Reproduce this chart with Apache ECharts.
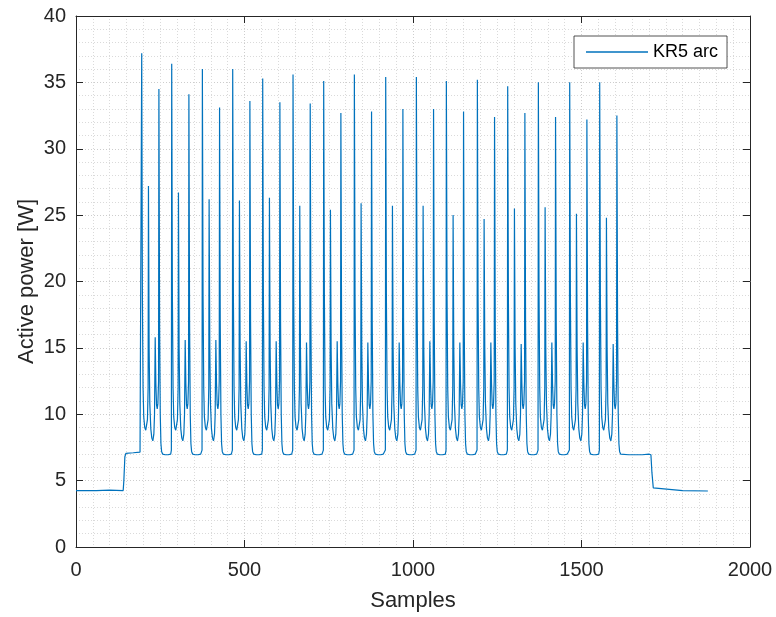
<!DOCTYPE html>
<html>
<head>
<meta charset="utf-8">
<script src="https://cdn.jsdelivr.net/npm/echarts@6/dist/echarts.min.js"></script>
<style>
html,body{margin:0;padding:0;background:#fff;}
#chart{width:776px;height:617px;}
</style>
</head>
<body>
<div id="chart"></div>
<script>
// ---- Data ----
const seriesName = 'KR5 arc';
const xTicks = [0, 500, 1000, 1500, 2000];
const yTicks = [0, 5, 10, 15, 20, 25, 30, 35, 40];

// Sample index of the first (largest) arc spike of each cycle
const peakAx = [195, 284, 375, 465, 554, 644, 735, 826, 919, 1010, 1099, 1191, 1281, 1372, 1465, 1554];
// Heights of the four spikes in each cycle [W]
const peakA = [37.2, 36.4, 36.0, 36.0, 35.3, 35.6, 35.1, 35.6, 35.4, 35.4, 35.1, 35.2, 34.7, 35.0, 35.0, 35.0];
const peakM = [27.2, 26.7, 26.2, 26.1, 26.3, 25.7, 25.4, 25.9, 25.7, 25.7, 25.0, 24.7, 25.5, 25.6, 25.1, 24.8];
const peakS = [15.8, 15.6, 15.6, 15.5, 15.5, 15.4, 15.5, 15.4, 15.4, 15.5, 15.4, 15.4, 15.3, 15.4, 15.4, 15.3];
const peakB = [34.5, 34.1, 33.1, 33.6, 33.5, 33.4, 32.7, 32.8, 33.0, 33.0, 32.8, 32.4, 32.7, 32.4, 32.2, 32.5];

// Shape of one cycle: sample offset from spike A and level [W]
const profileOffset = [-2, -1, 0, 1, 2, 4, 6, 9, 12, 15, 17, 19, 20, 21, 22, 24, 27, 30, 33, 36, 38, 40, 41, 42, 44, 46, 48, 50, 51, 52, 53, 55, 57, 59, 62, 70, 78, 86];
const profileLevel  = [7.0, 7.3, 'A', 'A', 19, 12, 9.8, 9.0, 8.8, 8.9, 9.6, 12, 'M', 'M', 15, 10.8, 8.9, 8.2, 8.0, 8.5, 10, 'S', 'S', 12.3, 10.7, 10.4, 10.8, 12.5, 'B', 'B', 17, 10, 7.8, 7.2, 7.0, 6.95, 6.95, 7.0];

// Idle segments before and after the arc cycles [sample, W]
const leadIn = [[0, 4.25], [60, 4.25], [100, 4.28], [140, 4.25], [142, 5.0], [145, 6.8], [148, 7.05], [170, 7.1], [190, 7.15]];
const leadOut = [[1640, 6.95], [1680, 6.95], [1700, 7.0], [1706, 6.95], [1709, 5.6], [1713, 4.45], [1718, 4.3], [1800, 4.25], [1875, 4.22]];

// ---- Build the series from the read values ----
const trace = [];
leadIn.forEach(p => trace.push(p));
peakAx.forEach((x0, i) => {
  const last = i === peakAx.length - 1;
  profileOffset.forEach((off, k) => {
    if (last && off > 62) return;
    if (i === 0 && off < 0) return;
    let lv = profileLevel[k];
    if (lv === 'A') lv = peakA[i];
    else if (lv === 'M') lv = peakM[i];
    else if (lv === 'S') lv = peakS[i];
    else if (lv === 'B') lv = peakB[i];
    trace.push([x0 + off, lv]);
  });
});
leadOut.forEach(p => trace.push(p));

const axisColor = '#262626';
const fontFam = '"Liberation Sans", Arial, Helvetica, sans-serif';

const chart = echarts.init(document.getElementById('chart'), null, {renderer: 'canvas'});
chart.setOption({
  animation: false,
  backgroundColor: '#ffffff',
  grid: {left: 76, right: 26, top: 16, bottom: 69, containLabel: false},
  legend: {
    data: [seriesName],
    left: 574, top: 36,
    icon: 'rect', itemWidth: 62, itemHeight: 1.5,
    padding: [6, 9, 6, 12],
    backgroundColor: '#ffffff',
    borderColor: axisColor, borderWidth: 0.8,
    textStyle: {fontFamily: fontFam, fontSize: 18, color: '#000', lineHeight: 20}
  },
  xAxis: [{
    type: 'value', min: xTicks[0], max: xTicks[xTicks.length - 1], interval: 500,
    name: 'Samples', nameLocation: 'middle', nameGap: 43, nameMoveOverlap: false,
    nameTextStyle: {fontFamily: fontFam, fontSize: 22, color: axisColor},
    axisLine: {show: true, onZero: false, lineStyle: {color: axisColor, width: 1}},
    axisTick: {show: true, inside: true, length: 7, lineStyle: {color: axisColor}},
    axisLabel: {margin: 13, fontFamily: fontFam, fontSize: 20, color: axisColor, formatter: v => String(v)},
    splitLine: {show: true, lineStyle: {color: '#cdcdcd', width: 1, type: [1, 2]}},
    minorTick: {show: false, splitNumber: 10},
    minorSplitLine: {show: true, lineStyle: {color: '#dadada', width: 1, type: [1, 2]}}
  }, {
    type: 'value', position: 'top', min: xTicks[0], max: xTicks[xTicks.length - 1], interval: 500,
    axisLine: {show: true, onZero: false, lineStyle: {color: axisColor, width: 1}},
    axisTick: {show: true, inside: true, length: 7, lineStyle: {color: axisColor}},
    axisLabel: {show: false}, splitLine: {show: false}
  }],
  yAxis: [{
    type: 'value', min: yTicks[0], max: yTicks[yTicks.length - 1], interval: 5,
    name: 'Active power [W]', nameLocation: 'middle', nameGap: 38, nameMoveOverlap: false,
    nameTextStyle: {fontFamily: fontFam, fontSize: 22, color: axisColor},
    axisLine: {show: true, onZero: false, lineStyle: {color: axisColor, width: 1}},
    axisTick: {show: true, inside: true, length: 7, lineStyle: {color: axisColor}},
    axisLabel: {margin: 10, fontFamily: fontFam, fontSize: 20, color: axisColor, formatter: v => String(v)},
    splitLine: {show: true, lineStyle: {color: '#cdcdcd', width: 1, type: [1, 2]}},
    minorTick: {show: false, splitNumber: 5},
    minorSplitLine: {show: true, lineStyle: {color: '#dadada', width: 1, type: [1, 2]}}
  }, {
    type: 'value', position: 'right', min: yTicks[0], max: yTicks[yTicks.length - 1], interval: 5,
    axisLine: {show: true, onZero: false, lineStyle: {color: axisColor, width: 1}},
    axisTick: {show: true, inside: true, length: 7, lineStyle: {color: axisColor}},
    axisLabel: {show: false}, splitLine: {show: false}
  }],
  series: [{
    name: seriesName,
    type: 'line',
    data: trace,
    xAxisIndex: 0, yAxisIndex: 0,
    symbol: 'none',
    smooth: false,
    color: '#0072BD',
    lineStyle: {color: '#0072BD', width: 1.2},
    itemStyle: {color: '#0072BD'}
  }]
});
</script>
</body>
</html>
